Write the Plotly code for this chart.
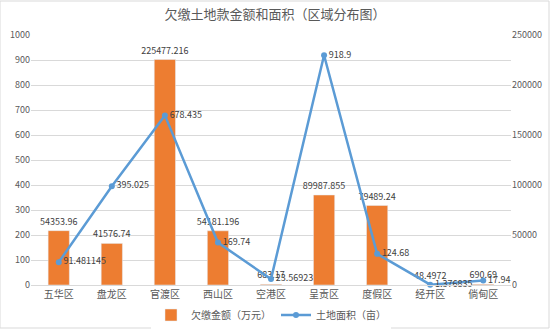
import plotly.graph_objects as go

categories = ["五华区", "盘龙区", "官渡区", "西山区", "空港区", "呈贡区", "度假区", "经开区", "倘甸区"]
amount_labels = ["54353.96", "41576.74", "225477.216", "54181.196", "683.17", "89987.855", "79489.24", "48.4972", "690.69"]
amount = [float(v) for v in amount_labels]
area_labels = ["91.481145", "395.025", "678.435", "169.74", "23.56923", "918.9", "124.68", "1.376835", "17.94"]
area = [float(v) for v in area_labels]

FONT = "Noto Sans CJK SC, Noto Sans, sans-serif"
GRAY = "#595959"

fig = go.Figure()
fig.add_trace(go.Bar(
    x=categories, y=amount, name="欠缴金额（万元）", yaxis="y",
    marker=dict(color="#ED7D31"),
    text=amount_labels, textposition="outside", cliponaxis=False,
    constraintext="none",
    textfont=dict(size=9, color="#404040", family=FONT),
))
fig.add_trace(go.Scatter(
    x=categories, y=area, name="土地面积（亩）", mode="lines+markers+text", yaxis="y2",
    line=dict(color="#5B9BD5", width=2.5), marker=dict(size=6, color="#5B9BD5"),
    text=area_labels, textposition="middle right", cliponaxis=False,
    textfont=dict(size=9, color="#404040", family=FONT),
))

fig.update_layout(
    width=550, height=329,
    margin=dict(l=31, r=39, t=35, b=44, autoexpand=False),
    paper_bgcolor="white", plot_bgcolor="white",
    font=dict(family=FONT, size=9, color=GRAY),
    title=dict(text="欠缴土地款金额和面积（区域分布图）", x=0.5, xanchor="center",
               y=0.955, yanchor="middle", font=dict(size=13, color=GRAY, family=FONT)),
    bargap=0.6,
    xaxis=dict(showgrid=False, showline=True, linecolor="#D9D9D9", ticks="",
               tickfont=dict(size=10, color=GRAY)),
    yaxis=dict(range=[0, 250000], dtick=50000, side="right", tickformat="d",
               showgrid=True, gridcolor="#D9D9D9",
               minor=dict(dtick=25000, showgrid=True, gridcolor="#D9D9D9"),
               zeroline=False, showline=False, tickfont=dict(size=9, color=GRAY)),
    yaxis2=dict(range=[0, 1000], dtick=100, overlaying="y", side="left",
                showgrid=False, zeroline=False, showline=False,
                tickfont=dict(size=9, color=GRAY)),
    legend=dict(orientation="h", x=0.5, xanchor="center", y=-0.12, yanchor="middle",
                font=dict(size=10, color=GRAY), traceorder="normal"),
    showlegend=True,
    shapes=[dict(type="rect", xref="paper", yref="paper", x0=-31/480, x1=1+38/480,
                 y0=-43/250, y1=1+34/250, line=dict(color="#D9D9D9", width=1))],
)

fig.write_html("out.html")
